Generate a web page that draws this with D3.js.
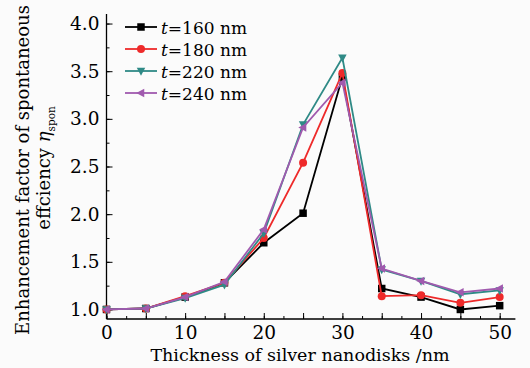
<!DOCTYPE html>
<html>
<head>
<meta charset="utf-8">
<script src="https://cdn.jsdelivr.net/npm/d3@7"></script>
<style>
  html, body { margin: 0; padding: 0; background: #fbfbfb; }
  svg { display: block; font-family: "DejaVu Serif", serif; }
</style>
</head>
<body>
<svg width="530" height="368"></svg>
<script>
// thickness of silver nanodisks (nm)
var thickness = [0, 5, 10, 15, 20, 25, 30, 35, 40, 45, 50];

// enhancement factor for each t
var t160 = [1.00, 1.01, 1.13, 1.28, 1.70, 2.01, 3.44, 1.22, 1.13, 1.00, 1.04];
var t180 = [1.00, 1.01, 1.14, 1.28, 1.75, 2.54, 3.48, 1.14, 1.15, 1.07, 1.13];
var t220 = [1.00, 1.01, 1.12, 1.26, 1.80, 2.94, 3.64, 1.42, 1.30, 1.16, 1.20];
var t240 = [1.00, 1.01, 1.13, 1.29, 1.84, 2.91, 3.38, 1.43, 1.30, 1.18, 1.22];

var seriesNames = ["160", "180", "220", "240"];
var seriesValues = [t160, t180, t220, t240];
var colors = ["#000000", "#ee2a2a", "#2f8a86", "#a05aae"];
var markers = ["square", "circle", "down", "left"];

var yTicks = [1.0, 1.5, 2.0, 2.5, 3.0, 3.5, 4.0];
var xTicks = [0, 10, 20, 30, 40, 50];

var svg = d3.select("svg");

var x = d3.scaleLinear().domain([0, 52]).range([106.5, 515.4]);
var y = d3.scaleLinear().domain([0.9, 4.1]).range([319, 14]);

// minor ticks first
svg.append("g")
    .attr("transform", "translate(" + x(0) + ",0)")
    .call(d3.axisLeft(y).tickValues(d3.range(1, 4.01, 0.25)).tickSize(-3).tickFormat(""))
    .call(function(g) { g.select(".domain").remove(); });

svg.append("g")
    .attr("transform", "translate(0," + y(0.9) + ")")
    .call(d3.axisBottom(x).tickValues(d3.range(0, 51, 2.5)).tickSize(-3).tickFormat(""))
    .call(function(g) { g.select(".domain").remove(); });

// major ticks
var yAxis = svg.append("g")
    .attr("transform", "translate(" + x(0) + ",0)")
    .call(d3.axisLeft(y).tickValues(yTicks).tickSize(-6).tickPadding(7).tickFormat(d3.format(".1f")));

var xAxis = svg.append("g")
    .attr("transform", "translate(0," + y(0.9) + ")")
    .call(d3.axisBottom(x).tickValues(d3.range(0, 51, 5)).tickSize(-6).tickPadding(7)
        .tickFormat(function(d) { return xTicks.indexOf(d) >= 0 ? d : ""; }));

yAxis.select(".domain").attr("d", "M0," + y(4.1) + "V" + y(0.9)).attr("stroke", "#000").attr("stroke-width", 1.3);
xAxis.select(".domain").attr("d", "M" + x(0) + ",0H" + x(52)).attr("stroke", "#000").attr("stroke-width", 1.3);

svg.selectAll(".tick line").attr("stroke", "#000").attr("stroke-width", 1);
svg.selectAll(".tick text")
    .attr("font-family", "DejaVu Serif")
    .attr("font-size", 18.5)
    .attr("fill", "#000");

function markerPath(type, s) {
  var h = s / 2;
  if (type == "square") return "M" + (-h) + "," + (-h) + "h" + s + "v" + s + "h" + (-s) + "Z";
  if (type == "down") return "M" + (-h - 0.5) + "," + (-h + 0.5) + "L" + (h + 0.5) + "," + (-h + 0.5) + "L0," + (h + 1) + "Z";
  if (type == "left") return "M" + (-h - 1) + ",0L" + (h - 0.5) + "," + (-h - 0.5) + "L" + (h - 0.5) + "," + (h + 0.5) + "Z";
  return "";
}

var line = d3.line()
    .x(function(d, i) { return x(thickness[i]); })
    .y(function(d) { return y(d); });

for (var k = 0; k < seriesValues.length; k++) {
  var g = svg.append("g");
  g.append("path")
      .datum(seriesValues[k])
      .attr("d", line)
      .attr("fill", "none")
      .attr("stroke", colors[k])
      .attr("stroke-width", 1.8);

  var pts = g.selectAll("g.pt")
      .data(seriesValues[k])
      .enter()
      .append("g")
      .attr("transform", function(d, i) { return "translate(" + x(thickness[i]) + "," + y(d) + ")"; });

  if (markers[k] == "circle") {
    pts.append("circle").attr("r", 4).attr("fill", colors[k]);
  } else {
    pts.append("path").attr("d", markerPath(markers[k], 7.5)).attr("fill", colors[k]);
  }
}

// legend
var legendY = [27, 49, 71, 93];
for (var k = 0; k < seriesNames.length; k++) {
  var lg = svg.append("g").attr("transform", "translate(0," + legendY[k] + ")");
  lg.append("line")
      .attr("x1", 125).attr("x2", 157)
      .attr("stroke", colors[k]).attr("stroke-width", 1.8);
  var m = lg.append("g").attr("transform", "translate(141,0)");
  if (markers[k] == "circle") {
    m.append("circle").attr("r", 4).attr("fill", colors[k]);
  } else {
    m.append("path").attr("d", markerPath(markers[k], 7.5)).attr("fill", colors[k]);
  }
  var tx = lg.append("text").attr("x", 161).attr("y", 6.5).attr("font-size", 17).attr("fill", "#000");
  tx.append("tspan").attr("font-style", "italic").text("t");
  tx.append("tspan").text("=" + seriesNames[k] + " nm");
}

// axis titles
svg.append("text")
    .attr("x", 300).attr("y", 361)
    .attr("text-anchor", "middle")
    .attr("font-size", 17.5)
    .text("Thickness of silver nanodisks /nm");

svg.append("text")
    .attr("transform", "translate(29,170) rotate(-90)")
    .attr("text-anchor", "middle")
    .attr("font-size", 18)
    .text("Enhancement factor of spontaneous");

var t2 = svg.append("text")
    .attr("transform", "translate(50,168) rotate(-90)")
    .attr("text-anchor", "middle")
    .attr("font-size", 18);
t2.append("tspan").text("effciency ");
t2.append("tspan").attr("font-style", "italic").text("η");
t2.append("tspan").attr("font-size", 10.5).attr("dy", 5).text("spon");
</script>
</body>
</html>
